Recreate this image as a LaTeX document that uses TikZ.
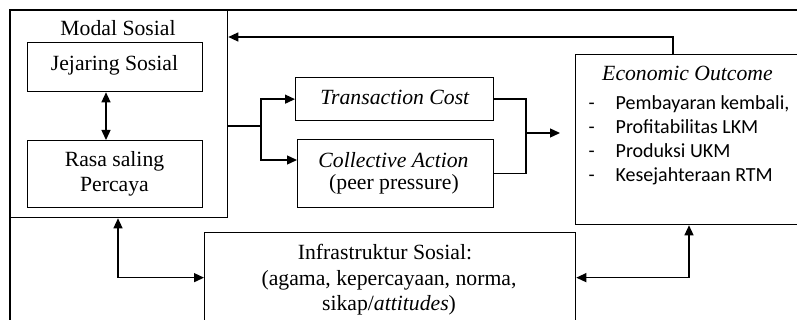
\documentclass[tikz,border=0pt]{standalone}
\usepackage{fontspec}
\setmainfont{Liberation Serif}
\newfontfamily\listfont{Carlito}
\usetikzlibrary{arrows.meta,calc}
\begin{document}
\begin{tikzpicture}[x=1pt,y=-1pt,
  line width=1.3pt,
  box/.style={draw, line width=1.3pt, inner sep=0pt, anchor=north west},
  txt/.style={font=\fontsize{21.7}{25}\selectfont, inner sep=0pt, anchor=base},
  lst/.style={font=\listfont\fontsize{20}{24}\selectfont, inner sep=0pt, anchor=base west},
  tip/.tip={Triangle[length=10pt,width=9pt]},
  arr/.style={-tip},
  darr/.style={tip-tip},
]
\clip (0,0) rectangle (797,320);

% outer frame (only its top and left sides fall inside the page)
\draw (10,340) -- (10,10) -- (820,10);

% boxes
\node[box, minimum width=217pt, minimum height=207pt] (modal) at (10,10) {};
\node[box, minimum width=175pt, minimum height=49pt]  (jej)   at (27,42) {};
\node[box, minimum width=175pt, minimum height=67pt]  (rasa)  at (27,140) {};
\node[box, minimum width=198pt, minimum height=43pt]  (tc)    at (295,77) {};
\node[box, minimum width=196pt, minimum height=68pt]  (ca)    at (297,139) {};
\node[box, minimum width=226pt, minimum height=170pt] (econ)  at (575,54) {};
\node[box, minimum width=371pt, minimum height=90pt]  (infra) at (204,232) {};

% texts
\node[txt] (tModal) at (118,36) {Modal Sosial};
\node[txt] (tJej)   at (114.5,71) {Jejaring Sosial};
\node[txt] (tRasaA) at (114.5,167) {Rasa saling};
\node[txt] (tRasaB) at (114.5,192) {Percaya};
\node[txt] (tTC)    at (395,105) {\textit{Transaction Cost}};
\node[txt] (tCAa)   at (393.5,168) {\textit{Collective Action}};
\node[txt] (tCAb)   at (394,190) {(peer pressure)};
\node[txt] (tInfA)  at (385,259) {Infrastruktur Sosial:};
\node[txt] (tInfB)  at (389,285) {(agama, kepercayaan, norma,};
\node[txt] (tInfC)  at (389,310) {sikap/\textit{attitudes})};
\node[txt] (tEcon)  at (687.5,81) {\textit{Economic Outcome}};
\foreach \y/\t [count=\i] in {110/{Pembayaran kembali,},134/{Profitabilitas LKM},158/{Produksi UKM},182/{Kesejahteraan RTM}}{
  \node[lst] (dash\i) at (588,\y) {-};
  \node[lst] (item\i) at (615,\y) {\t};
}

% connectors
\draw[arr] ($(econ.north west)+(98,0)$) |- ($(modal.north east)+(0,27)$);
\draw[darr] ($(jej.south west)+(79,0)$) -- ($(rasa.north west)+(79,0)$);

\coordinate (split) at (261,126);
\draw (modal.east |- split) -- (split);
\draw[arr] (split) |- (tc.west);
\draw[arr] (split) |- ($(ca.north west)+(0,21)$);

\coordinate (merge) at (526,133);
\draw (tc.east) -| (merge);
\draw (ca.east) -| (merge);
\draw[arr, shorten >=15pt] (merge) -- (econ.west |- merge);

\draw[darr] ($(modal.south west)+(108,0)$) |- (infra.west);
\draw[darr] ($(econ.south west)+(114,0)$) |- (infra.east);
\end{tikzpicture}
\end{document}
